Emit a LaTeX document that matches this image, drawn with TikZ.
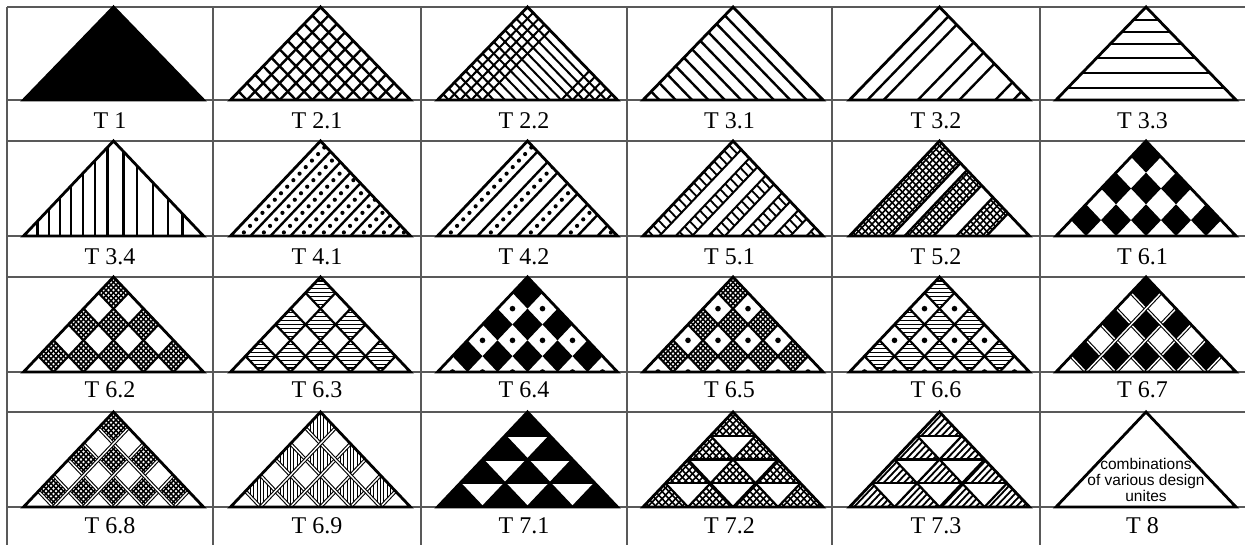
\documentclass[tikz,border=0pt]{standalone}
\usepackage{fontspec}
\setmainfont{Liberation Serif}
\newfontfamily\notefont{Liberation Sans}

\tikzset{
  tbl/.style={draw=black!65, line width=1.2pt},
  triedge/.style={draw=black, line width=2.8pt, line join=miter},
  hatch/.style={line width=2.4pt},
  finehatch/.style={line width=1.3pt},
  gridline/.style={line width=2.2pt},
  dblline/.style={draw=black, line width=1.1pt, double=white, double distance=1.4pt},
  lbl/.style={font=\fontsize{24}{26}\selectfont, inner sep=0pt},
  trisc/.style n args={3}{shift={(#1,#2)}, x=11.25pt, y=#3},
}

% local triangle: base (-8,0)--(8,0), apex (0,8); u=x+y, v=y-x
\newcommand{\trishape}{(-8,0) -- (8,0) -- (0,8) -- cycle}
\newcommand{\uv}[2]{({((#1)-(#2))/2},{((#1)+(#2))/2})}
\newcommand{\bsline}[1]{\uv{#1}{-20} -- \uv{#1}{20}}
\newcommand{\fsline}[1]{\uv{-20}{#1} -- \uv{20}{#1}}
% diamond cell (p,q) of the 6x6 grid
\newcommand{\dia}[2]{\uv{-8+#1*8/3}{-8+#2*8/3} -- \uv{-8+#1*8/3+8/3}{-8+#2*8/3} -- \uv{-8+#1*8/3+8/3}{-8+#2*8/3+8/3} -- \uv{-8+#1*8/3}{-8+#2*8/3+8/3} -- cycle}
\newcommand{\darklist}{5/5,3/5,4/4,5/3,1/5,2/4,3/3,4/2,5/1}
\newcommand{\lightlist}{4/5,5/4,2/5,3/4,4/3,5/2,0/5,1/4,2/3,3/2,4/1,5/0}
\newcommand{\meshcell}[2]{\begin{scope}\clip \dia{#1}{#2};
  \foreach \j in {1,...,5} {\draw[line width=1.5pt] \bsline{-8+#1*8/3+\j*4/9}; \draw[line width=1.5pt] \fsline{-8+#2*8/3+\j*4/9};}
  \end{scope}}
\newcommand{\hatchcell}[2]{\begin{scope}\clip \dia{#1}{#2};
  \foreach \j in {1,...,7} {\draw[line width=1.1pt] (-9,{-8+(#1+#2)*4/3+\j/3}) -- (9,{-8+(#1+#2)*4/3+\j/3});}
  \end{scope}}
\newcommand{\vhatchcell}[2]{\begin{scope}\clip \dia{#1}{#2};
  \foreach \j in {-4,...,4} {\draw[line width=1.1pt] ({(#1-#2)*4/3+\j*0.3},-1) -- ({(#1-#2)*4/3+\j*0.3},9);}
  \end{scope}}
\newcommand{\dotcell}[2]{\fill \uv{-8+#1*8/3+4/3}{-8+#2*8/3+4/3} circle[radius=2.8pt];}
\newcommand{\diagrid}[1]{\foreach \i in {1,...,5} {\draw[#1] \bsline{-8+\i*8/3}; \draw[#1] \fsline{-8+\i*8/3};}}
% small triangles of the 4-row split
\newcommand{\downtri}[2]{({-2*#1+4*#2},{8-2*#1}) -- ({-2*#1+4*#2+4},{8-2*#1}) -- ({-2*#1+4*#2+2},{6-2*#1}) -- cycle}
\newcommand{\downlist}{1/0,2/0,2/1,3/0,3/1,3/2}
\newcommand{\trigrid}{\foreach \k in {-4,0,4} {\draw[gridline] \bsline{\k}; \draw[gridline] \fsline{\k};}
  \foreach \y in {2,4,6} {\draw[gridline] (-9,\y) -- (9,\y);}}

\begin{document}
\begin{tikzpicture}[x=1pt,y=-1pt]
\useasboundingbox (0,0) rectangle (1245,545);
% table
\foreach \y in {7,100,141,236,277,372,412,507} \draw[tbl] (7,\y) -- (1245,\y);
\foreach \x in {7,213,421,627,832,1040} \draw[tbl] (\x,7) -- (\x,545);

% ---- row 1
\begin{scope}[trisc={113.5}{100}{11.625pt}]
  \fill \trishape;
  \draw[triedge] \trishape;
\end{scope}
\begin{scope}[trisc={320.5}{100}{11.625pt}]
  \begin{scope}
    \clip \trishape;
    \foreach \i in {1,...,10} {\draw[hatch] \bsline{-8+\i*16/11}; \draw[hatch] \fsline{-8+\i*16/11};}
  \end{scope}
  \draw[triedge] \trishape;
\end{scope}
\begin{scope}[trisc={527.5}{100}{11.625pt}]
  \begin{scope}
    \clip \trishape;
    \foreach \i in {1,...,15} {\draw[line width=2pt] \bsline{-8+\i};}
    \foreach \i in {1,2,3,4,5,12,13,14,15} {\draw[line width=2pt] \fsline{-8+\i};}
  \end{scope}
  \draw[triedge] \trishape;
\end{scope}
\begin{scope}[trisc={733}{100}{11.625pt}]
  \begin{scope}
    \clip \trishape;
    \foreach \i in {1,...,10} {\draw[hatch] \bsline{-8+\i*16/11};}
  \end{scope}
  \draw[triedge] \trishape;
\end{scope}
\begin{scope}[trisc={939.5}{100}{11.625pt}]
  \begin{scope}
    \clip \trishape;
    \foreach \k in {6.4,4.96,1.92,0.16,-1.76,-4.96,-6.56} {\draw[hatch] \fsline{\k};}
  \end{scope}
  \draw[triedge] \trishape;
\end{scope}
\begin{scope}[trisc={1146}{100}{11.625pt}]
  \begin{scope}
    \clip \trishape;
    \foreach \y in {6.88,5.84,4.8,3.6,2.32,1.04} {\draw[hatch] (-9,\y) -- (9,\y);}
  \end{scope}
  \draw[triedge] \trishape;
\end{scope}

% ---- row 2
\begin{scope}[trisc={113.5}{236}{11.875pt}]
  \begin{scope}
    \clip \trishape;
    \foreach \x in {-6.77,-5.71,-4.75,-3.78,-2.73,-1.67,-0.53,0.88,2.11,3.52,4.84,6.15} {\draw[hatch] (\x,-1) -- (\x,9);}
  \end{scope}
  \draw[triedge] \trishape;
\end{scope}
\begin{scope}[trisc={320.5}{236}{11.875pt}]
  \begin{scope}
    \clip \trishape;
    \foreach \j in {1,...,8} {\draw[hatch] \fsline{8-\j*16/9};}
    \foreach \j in {0,...,8} {
      \pgfmathsetmacro\vc{8-(\j+0.5)*16/9}
      \foreach \t in {0,...,15} {\fill \uv{-(\vc)+0.6+\t*1.1}{\vc} circle[radius=2.1pt];}
    }
  \end{scope}
  \draw[triedge] \trishape;
\end{scope}
\begin{scope}[trisc={527.5}{236}{11.875pt}]
  \begin{scope}
    \clip \trishape;
    \foreach \j in {1,...,8} {\draw[hatch] \fsline{8-\j*16/9};}
    \foreach \j in {0,2,4,6,8} {
      \pgfmathsetmacro\vc{8-(\j+0.5)*16/9}
      \foreach \t in {0,...,15} {\fill \uv{-(\vc)+0.6+\t*1.1}{\vc} circle[radius=2.1pt];}
    }
  \end{scope}
  \draw[triedge] \trishape;
\end{scope}
\begin{scope}[trisc={733}{236}{11.875pt}]
  \begin{scope}
    \clip \trishape;
    \foreach \j in {1,...,10} {\draw[line width=2pt] \fsline{8-\j*16/11};}
    \foreach \j in {0,2,...,10} {
      \foreach \t in {0,...,18} {\draw[line width=1.8pt] \uv{-8+\t*0.9}{8-\j*16/11} -- \uv{-8+\t*0.9}{8-(\j+1)*16/11};}
    }
  \end{scope}
  \draw[triedge] \trishape;
\end{scope}
\begin{scope}[trisc={939.5}{236}{11.875pt}]
  \begin{scope}
    \clip \trishape;
    \foreach \va/\vb in {4.27/8,0.53/3.1,-4.18/-1.5} {
      \begin{scope}
        \clip \uv{-20}{\va} -- \uv{20}{\va} -- \uv{20}{\vb} -- \uv{-20}{\vb} -- cycle;
        \foreach \t in {0,...,27} {\draw[line width=1.6pt] \bsline{-8+\t*0.6}; \draw[line width=1.6pt] \fsline{-8+\t*0.6};}
      \end{scope}
      \draw[hatch] \fsline{\va}; \draw[hatch] \fsline{\vb};
    }
  \end{scope}
  \draw[triedge] \trishape;
\end{scope}
\begin{scope}[trisc={1146}{236}{11.875pt}]
  \foreach \p/\q in \darklist {\fill \dia{\p}{\q};}
  \draw[triedge] \trishape;
\end{scope}

% ---- row 3
\begin{scope}[trisc={113.5}{372}{11.875pt}]
  \begin{scope}
    \clip \trishape;
    \foreach \p/\q in \darklist {\meshcell{\p}{\q}}
    \diagrid{gridline}
  \end{scope}
  \draw[triedge] \trishape;
\end{scope}
\begin{scope}[trisc={320.5}{372}{11.875pt}]
  \begin{scope}
    \clip \trishape;
    \foreach \p/\q in \darklist {\hatchcell{\p}{\q}}
    \diagrid{gridline}
  \end{scope}
  \draw[triedge] \trishape;
\end{scope}
\begin{scope}[trisc={527.5}{372}{11.875pt}]
  \begin{scope}
    \clip \trishape;
    \foreach \p/\q in \darklist {\fill \dia{\p}{\q};}
    \foreach \p/\q in \lightlist {\dotcell{\p}{\q}}
  \end{scope}
  \draw[triedge] \trishape;
\end{scope}
\begin{scope}[trisc={733}{372}{11.875pt}]
  \begin{scope}
    \clip \trishape;
    \foreach \p/\q in \darklist {\meshcell{\p}{\q}}
    \diagrid{gridline}
    \foreach \p/\q in \lightlist {\dotcell{\p}{\q}}
  \end{scope}
  \draw[triedge] \trishape;
\end{scope}
\begin{scope}[trisc={939.5}{372}{11.875pt}]
  \begin{scope}
    \clip \trishape;
    \foreach \p/\q in \darklist {\hatchcell{\p}{\q}}
    \diagrid{gridline}
    \foreach \p/\q in \lightlist {\dotcell{\p}{\q}}
  \end{scope}
  \draw[triedge] \trishape;
\end{scope}
\begin{scope}[trisc={1146}{372}{11.875pt}]
  \begin{scope}
    \clip \trishape;
    \foreach \p/\q in \darklist {\fill \dia{\p}{\q};}
    \diagrid{dblline}
  \end{scope}
  \draw[triedge] \trishape;
\end{scope}

% ---- row 4
\begin{scope}[trisc={113.5}{507}{11.875pt}]
  \begin{scope}
    \clip \trishape;
    \foreach \p/\q in \darklist {\meshcell{\p}{\q}}
    \diagrid{dblline}
  \end{scope}
  \draw[triedge] \trishape;
\end{scope}
\begin{scope}[trisc={320.5}{507}{11.875pt}]
  \begin{scope}
    \clip \trishape;
    \foreach \p/\q in \darklist {\vhatchcell{\p}{\q}}
    \diagrid{dblline}
  \end{scope}
  \draw[triedge] \trishape;
\end{scope}
\begin{scope}[trisc={527.5}{507}{11.875pt}]
  \fill \trishape;
  \foreach \r/\j in \downlist {\fill[white] \downtri{\r}{\j};}
  \begin{scope}
    \clip \trishape;
    \trigrid
  \end{scope}
  \draw[triedge] \trishape;
\end{scope}
\begin{scope}[trisc={733}{507}{11.875pt}]
  \begin{scope}
    \clip \trishape;
    \foreach \t in {1,...,26} {\draw[line width=1.6pt] \bsline{-8+\t*0.6}; \draw[line width=1.6pt] \fsline{-8+\t*0.6};}
    \foreach \r/\j in \downlist {\fill[white] \downtri{\r}{\j};}
    \trigrid
  \end{scope}
  \draw[triedge] \trishape;
\end{scope}
\begin{scope}[trisc={939.5}{507}{11.875pt}]
  \begin{scope}
    \clip \trishape;
    \foreach \t in {1,...,26} {\draw[line width=1.8pt] \fsline{-8+\t*0.6};}
    \foreach \r/\j in \downlist {\fill[white] \downtri{\r}{\j};}
    \trigrid
  \end{scope}
  \draw[triedge] \trishape;
\end{scope}
\begin{scope}[trisc={1146}{507}{11.875pt}]
  \draw[triedge] \trishape;
  \node[font=\notefont\fontsize{15.5}{16}\selectfont, align=center, inner sep=0pt] (note) at (0,2.3)
    {combinations\\of various design\\unites};
\end{scope}

% labels
\node[lbl] (lT1)  at (110,120.5)  {T 1};
\node[lbl] (lT21) at (317,120.5)  {T 2.1};
\node[lbl] (lT22) at (524,120.5)  {T 2.2};
\node[lbl] (lT31) at (729.5,120.5) {T 3.1};
\node[lbl] (lT32) at (936,120.5)  {T 3.2};
\node[lbl] (lT33) at (1142.5,120.5) {T 3.3};
\node[lbl] (lT34) at (110,256.5)  {T 3.4};
\node[lbl] (lT41) at (317,256.5)  {T 4.1};
\node[lbl] (lT42) at (524,256.5)  {T 4.2};
\node[lbl] (lT51) at (729.5,256.5) {T 5.1};
\node[lbl] (lT52) at (936,256.5)  {T 5.2};
\node[lbl] (lT61) at (1142.5,256.5) {T 6.1};
\node[lbl] (lT62) at (110,390)  {T 6.2};
\node[lbl] (lT63) at (317,390)  {T 6.3};
\node[lbl] (lT64) at (524,390)  {T 6.4};
\node[lbl] (lT65) at (729.5,390) {T 6.5};
\node[lbl] (lT66) at (936,390)  {T 6.6};
\node[lbl] (lT67) at (1142.5,390) {T 6.7};
\node[lbl] (lT68) at (110,526)  {T 6.8};
\node[lbl] (lT69) at (317,526)  {T 6.9};
\node[lbl] (lT71) at (524,526)  {T 7.1};
\node[lbl] (lT72) at (729.5,526) {T 7.2};
\node[lbl] (lT73) at (936,526)  {T 7.3};
\node[lbl] (lT8)  at (1142.5,526) {T 8};
\end{tikzpicture}
\end{document}
